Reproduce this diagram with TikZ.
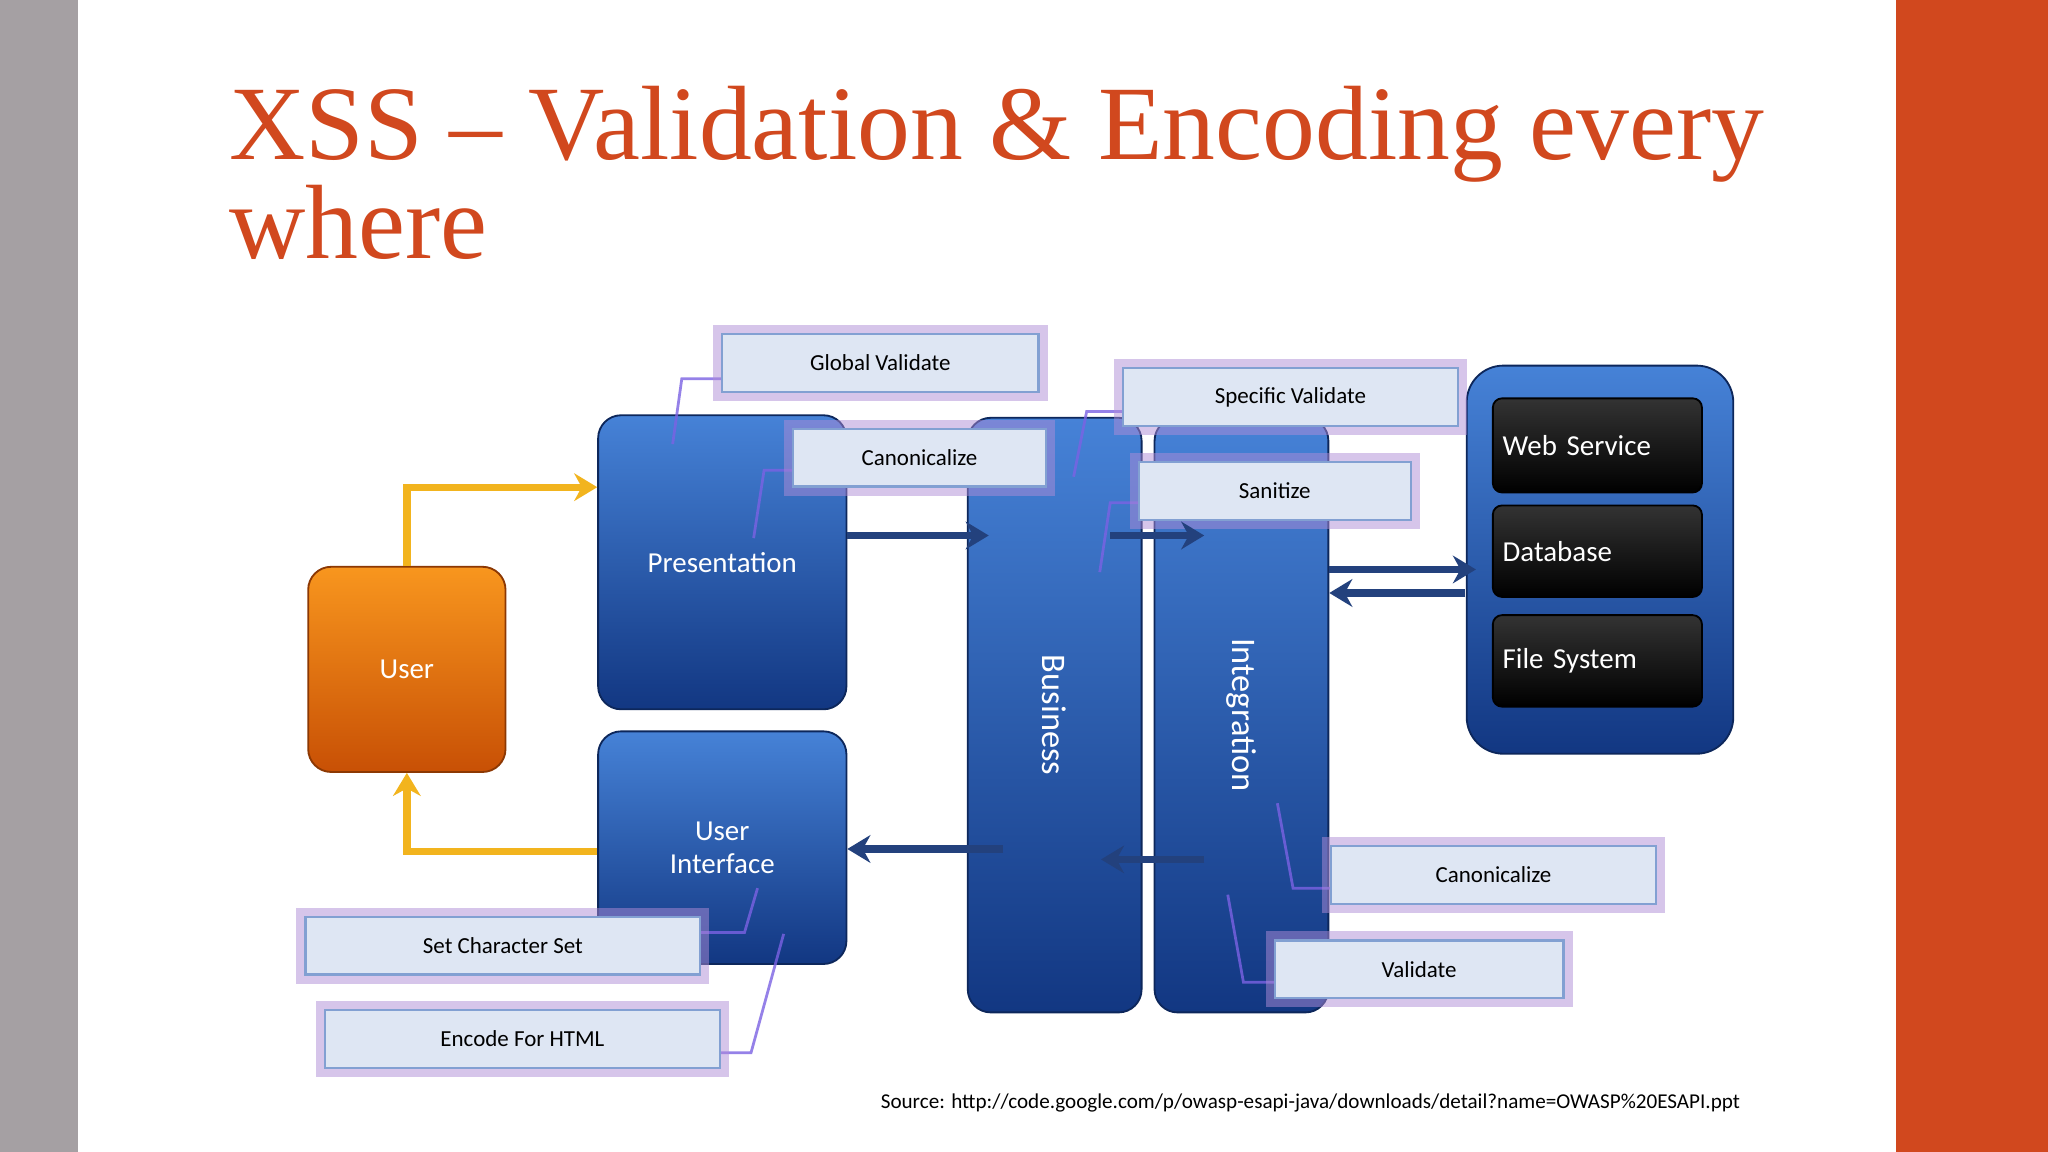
\documentclass[tikz,border=0pt]{standalone}
\usepackage{fontspec}
\setmainfont{Liberation Serif}
\newfontfamily\calib{Carlito}
\usetikzlibrary{arrows.meta,calc}
\definecolor{rust}{RGB}{209,72,30}
\definecolor{gbar}{RGB}{165,160,163}
\definecolor{bluelt}{RGB}{70,130,215}
\definecolor{bluedk}{RGB}{18,55,130}
\definecolor{orlt}{RGB}{248,150,30}
\definecolor{ordk}{RGB}{200,80,5}
\definecolor{lblfill}{RGB}{222,230,243}
\definecolor{lbldraw}{RGB}{130,160,210}
\definecolor{glow}{RGB}{175,140,215}
\definecolor{arrblue}{RGB}{35,65,125}
\definecolor{yel}{RGB}{242,180,30}
\tikzset{
 bbox/.style={rounded corners=5pt,top color=bluelt,bottom color=bluedk,draw=bluedk!70!black,line width=0.4pt,
   text=white,font=\calib\fontsize{6.3}{7.2}\selectfont,align=center,inner sep=0pt},
 ubox/.style={bbox,top color=orlt,bottom color=ordk,draw=ordk!70!black},
 kbox/.style={rounded corners=2pt,top color=black!80,bottom color=black,draw=black,text=white,
   font=\calib\fontsize{6.3}{7.2}\selectfont,inner sep=0pt,text width=1.45cm,align=left},
 lbl/.style={fill=lblfill,draw=lbldraw,line width=0.5pt,text=black,font=\calib\fontsize{5}{6}\selectfont,
   inner sep=0pt,minimum height=0.44cm,preaction={draw=glow,line width=4pt,opacity=0.5}},
 yar/.style={draw=yel,line width=1.6pt,-{Stealth[length=5pt,width=6pt]}},
 bar/.style={draw=arrblue,line width=1.6pt,-{Stealth[length=5pt,width=6pt]}},
 cl/.style={draw=glow!70!blue,line width=0.6pt,opacity=0.8}
}
\begin{document}
\begin{tikzpicture}[x=0.01cm,y=-0.01cm]
\useasboundingbox (0,0) rectangle (1568,882);
\fill[white] (0,0) rectangle (1568,882);
\fill[gbar] (0,0) rectangle (60,882);
\fill[rust] (1452,0) rectangle (1568,882);
\node[anchor=base west,text=rust,inner sep=0,font=\fontsize{23}{26}\selectfont] (t1) at (175,122) {XSS – Validation \& Encoding every};
\node[anchor=base west,text=rust,inner sep=0,font=\fontsize{23}{26}\selectfont] (t2) at (175,198) {where};

\node[ubox,minimum width=1.51cm,minimum height=1.57cm] (user) at (311.5,512.5) {User};
\node[bbox,minimum width=1.90cm,minimum height=2.25cm] (pres) at (553,430.5) {Presentation};
\node[bbox,minimum width=1.90cm,minimum height=1.78cm] (ui) at (553,649) {User\\Interface};
\node[bbox,minimum width=1.33cm,minimum height=4.55cm] (bus) at (807.5,547.5) {};
\node[rotate=-90,text=white,font=\calib\fontsize{7.5}{9}\selectfont] (bust) at (bus.center) {Business};
\node[bbox,minimum width=1.33cm,minimum height=4.55cm] (int) at (950.5,547.5) {};
\node[rotate=-90,text=white,font=\calib\fontsize{7.5}{9}\selectfont] (intt) at (int.center) {Integration};
\node[bbox,rounded corners=8pt,minimum width=2.04cm,minimum height=2.97cm] (cont) at (1225,428.5) {};
\node[kbox,minimum width=1.60cm,minimum height=0.72cm] (ws) at (1223,341) {Web Service};
\node[kbox,minimum width=1.60cm,minimum height=0.70cm] (db) at (1223,422) {Database};
\node[kbox,minimum width=1.60cm,minimum height=0.70cm] (fs) at (1223,506) {File System};

% callout lines
\draw[cl] (553,290) -- (522,290) -- (515,340);
\draw[cl] (607,360) -- (585,360) -- (577,412);
\draw[cl] (860,315) -- (832,315) -- (822,365);
\draw[cl] (872,385) -- (850,385) -- (842,438);
\draw[cl] (1019,680) -- (990,680) -- (978,615);
\draw[cl] (976,752) -- (952,752) -- (940,685);
\draw[cl] (536,714) -- (570,714) -- (580,680);
\draw[cl] (551,806) -- (575,806) -- (600,715);

\node[lbl,minimum width=2.42cm] (gv) at (674,278) {Global Validate};
\node[lbl,minimum width=1.94cm] (c1) at (704,350.5) {Canonicalize};
\node[lbl,minimum width=2.56cm] (sv) at (988,304) {Specific Validate};
\node[lbl,minimum width=2.08cm] (sa) at (976,376) {Sanitize};
\node[lbl,minimum width=2.49cm] (c2) at (1143.5,670) {Canonicalize};
\node[lbl,minimum width=2.21cm] (va) at (1086.5,742) {Validate};
\node[lbl,minimum width=3.02cm] (scs) at (385,724) {Set Character Set};
\node[lbl,minimum width=3.02cm] (efh) at (400,795.5) {Encode For HTML};

% arrows
\draw[yar] (user.north) |- (pres.west |- 0,373);
\draw[yar] (ui.west |- 0,652) -| (user.south);
\draw[bar] (pres.east |- 0,410) -- (757,410);
\draw[bar] (850,410) -- (922,410);
\draw[bar] (int.east |- 0,436) -- (1130,436);
\draw[bar] (1122,454) -- (int.east |- 0,454);
\draw[bar] (768,650) -- (ui.east |- 0,650);
\draw[bar] (922,658) -- (843,658);

\node[anchor=base east,inner sep=0,font=\calib\fontsize{4.6}{5.5}\selectfont] (src) at (1333,849) {Source: http://code.google.com/p/owasp-esapi-java/downloads/detail?name=OWASP\%20ESAPI.ppt};
\end{tikzpicture}
\end{document}
